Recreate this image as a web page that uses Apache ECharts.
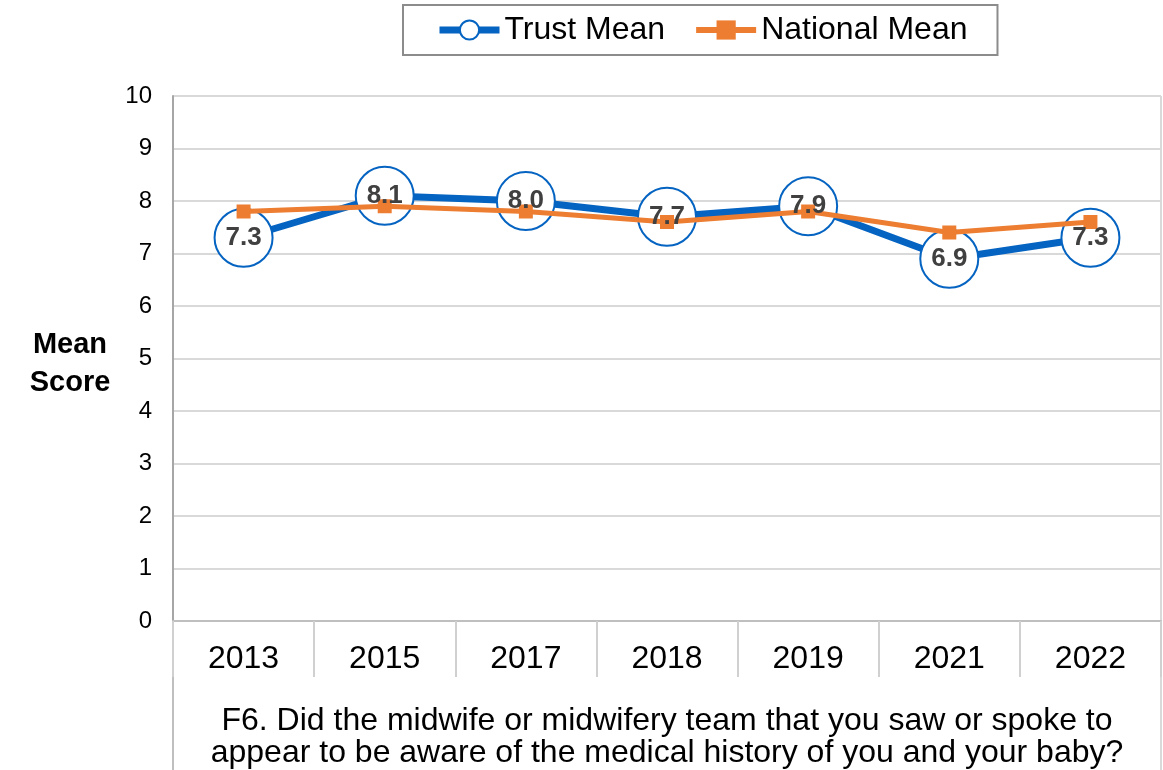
<!DOCTYPE html>
<html>
<head>
<meta charset="utf-8">
<script src="https://cdn.jsdelivr.net/npm/echarts@6/dist/echarts.min.js"></script>
<style>
  html, body { margin: 0; padding: 0; background: #fff; }
  #chart { width: 1163px; height: 770px; }
</style>
</head>
<body>
<div id="chart"></div>
<script>
// Survey years on the category axis
const years = ['2013', '2015', '2017', '2018', '2019', '2021', '2022'];
// Mean scores (0-10)
const trustMean = [7.3, 8.1, 8.0, 7.7, 7.9, 6.9, 7.3];
const nationalMean = [7.8, 7.9, 7.8, 7.6, 7.8, 7.4, 7.6];
// Value axis ticks
const yTicks = { min: 0, max: 10, interval: 1 };

const questionText = 'F6. Did the midwife or midwifery team that you saw or spoke to\nappear to be aware of the medical history of you and your baby?';
const yTitle = 'Mean\nScore';
const FONT = '"Liberation Sans", Arial, sans-serif';
const BLUE = '#0563c1';
const ORANGE = '#ed7d31';

const GRID = { left: 173, right: 2, top: 96, bottom: 149 };
const W = 1163, H = 770;
const plotLeft = GRID.left, plotRight = W - GRID.right, plotBottom = H - GRID.bottom;

const chart = echarts.init(document.getElementById('chart'), null, { renderer: 'canvas' });

chart.setOption({
  animation: false,
  textStyle: { fontFamily: FONT },
  legend: {
    data: [
      { name: 'Trust Mean', lineStyle: { width: 7 }, itemStyle: { borderWidth: 2 } },
      { name: 'National Mean', lineStyle: { width: 6 } }
    ],
    left: 403,
    top: 5,
    padding: [9, 30, 9, 33],
    borderColor: '#8c8c8c',
    borderWidth: 2,
    itemWidth: 60,
    itemHeight: 24,
    itemGap: 28,
    textStyle: { fontSize: 32, color: '#000', fontFamily: FONT }
  },
  grid: Object.assign({ outerBoundsMode: 'none', containLabel: false }, GRID),
  xAxis: {
    type: 'category',
    data: years,
    boundaryGap: true,
    axisLine: { lineStyle: { color: '#bfbfbf', width: 2 } },
    axisTick: { show: true, length: 56, interval: 0, lineStyle: { color: '#d0d0d0', width: 2 } },
    axisLabel: { fontSize: 32, color: '#000', margin: 22, interval: 0, fontFamily: FONT },
    name: questionText,
    nameLocation: 'middle',
    nameGap: 84,
    nameTextStyle: { fontSize: 32, color: '#000', lineHeight: 32, fontFamily: FONT, align: 'center', verticalAlign: 'top' }
  },
  yAxis: {
    type: 'value',
    min: yTicks.min,
    max: yTicks.max,
    interval: yTicks.interval,
    axisLine: { show: true, lineStyle: { color: '#a6a6a6', width: 2 } },
    axisTick: { show: false },
    splitLine: { lineStyle: { color: '#d9d9d9', width: 2 } },
    axisLabel: { fontSize: 24, color: '#000', margin: 21, fontFamily: FONT }
  },
  series: [
    {
      name: 'Trust Mean',
      type: 'line',
      data: trustMean,
      z: 2,
      symbol: 'circle',
      symbolSize: 58,
      lineStyle: { color: BLUE, width: 7 },
      itemStyle: { color: '#fff', borderColor: BLUE, borderWidth: 2 },
      label: { show: false }
    },
    {
      name: 'National Mean',
      type: 'line',
      data: nationalMean,
      z: 3,
      symbol: 'rect',
      symbolSize: 14,
      lineStyle: { color: ORANGE, width: 5 },
      itemStyle: { color: ORANGE }
    },
    {
      // value labels for the trust series, kept above both lines
      name: 'Trust labels',
      type: 'scatter',
      data: trustMean,
      z: 5,
      silent: true,
      symbolSize: 1,
      itemStyle: { color: 'rgba(0,0,0,0)', opacity: 1 },
      label: {
        show: true,
        position: 'inside',
        formatter: p => p.value.toFixed(1),
        fontSize: 26,
        fontWeight: 'bold',
        color: '#404040',
        opacity: 1,
        fontFamily: FONT
      }
    }
  ],
  graphic: [
    // value axis title
    {
      type: 'text', silent: true, x: 70, y: 364,
      style: { text: yTitle, fontSize: 29, fontWeight: 'bold', fill: '#000', lineHeight: 38, align: 'center', verticalAlign: 'middle', fontFamily: FONT }
    },
    // frame of the question label area and right edge of the plot
    { type: 'line', silent: true, shape: { x1: plotLeft, y1: plotBottom, x2: plotLeft, y2: H }, style: { stroke: '#bfbfbf', lineWidth: 2 } },
    { type: 'line', silent: true, shape: { x1: plotRight, y1: GRID.top, x2: plotRight, y2: H }, style: { stroke: '#d9d9d9', lineWidth: 2 } }
  ]
});
</script>
</body>
</html>
